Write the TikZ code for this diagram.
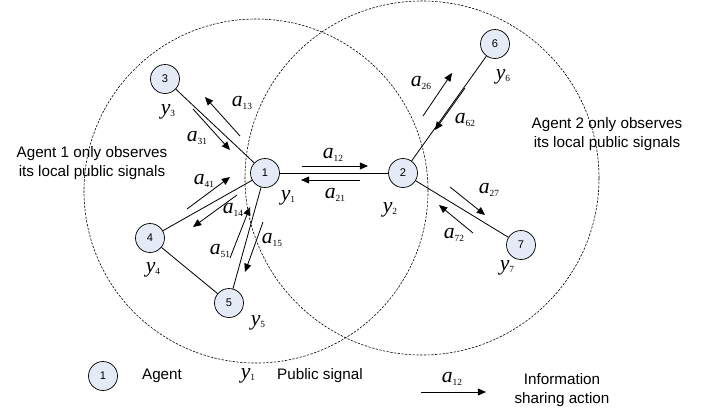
\documentclass[tikz,border=0pt]{standalone}
\usepackage{fontspec}
\usepackage{xcolor}
\usepackage{tikz}
\usetikzlibrary{arrows.meta}
\setmainfont{Liberation Sans}
\newfontfamily\symfont{Liberation Serif}
\definecolor{agentfill}{RGB}{228,235,246}
% variable with a small upright index
\newcommand{\symlab}[2]{{\symfont\itshape\fontsize{18.5}{20}\selectfont #1}\raisebox{-0.2em}{\symfont\fontsize{8}{9}\selectfont #2}}

\begin{document}
\begin{tikzpicture}[x=0.03cm, y=-0.03cm,
    agent/.style={draw, circle, fill=agentfill, minimum size=0.87cm, inner sep=0pt, line width=0.6pt, font=\fontsize{9.5}{11}\selectfont},
    link/.style={line width=0.7pt},
    act/.style={line width=0.7pt, -{Triangle[length=7pt,width=6pt]}},
    zone/.style={line width=0.5pt, dash pattern=on 2pt off 1.2pt},
    note/.style={align=center, inner sep=0pt, font=\fontsize{13}{15.5}\selectfont},
    lab/.style={inner sep=0pt}]
    \useasboundingbox (0,0) rectangle (706,411);

    % Observation ranges
    \draw[zone] (256,191) circle [radius=5.16cm];
    \draw[zone] (422,178) circle [radius=5.31cm];
    \node[note] (obs1) at (92,163) {Agent 1 only observes\\its local public signals};
    \node[note] (obs2) at (607,134) {Agent 2 only observes\\its local public signals};

    % Agents
    \node[agent] (n1) at (265,173) {1};
    \node[agent] (n2) at (403,173) {2};
    \node[agent] (n3) at (165,79) {3};
    \node[agent] (n4) at (150,238) {4};
    \node[agent] (n5) at (229,303) {5};
    \node[agent] (n6) at (495,44) {6};
    \node[agent] (n7) at (521,245) {7};

    % Links
    \draw[link] (n3) -- (n1);
    \draw[link] (n1) -- (n2);
    \draw[link] (n1) -- (n4);
    \draw[link] (n4) -- (n5);
    \draw[link] (n5) -- (n1);
    \draw[link] (n2) -- (n6);
    \draw[link] (n2) -- (n7);

    % Public signals
    \node[lab] (y1) at (288,198) {\symlab{y}{1}};
    \node[lab] (y2) at (390,210) {\symlab{y}{2}};
    \node[lab] (y3) at (168,112) {\symlab{y}{3}};
    \node[lab] (y4) at (153,270) {\symlab{y}{4}};
    \node[lab] (y5) at (258,323) {\symlab{y}{5}};
    \node[lab] (y6) at (503,77) {\symlab{y}{6}};
    \node[lab] (y7) at (507,268) {\symlab{y}{7}};

    % Information sharing actions
    \foreach \nm/\sx/\sy/\ex/\ey in {a13/240/136/205/97, a31/193/109/230/150,
        a41/187/209/230/177, a14/237/195/193/227, a51/230/258/250/207,
        a15/263/222/245/272, a12/302/166/368/166, a21/360/180/301/180,
        a26/423/116/452/73, a62/465/88/435/130, a27/450/187/485/215,
        a72/473/233/439/205} {
        \coordinate (\nm s) at (\sx,\sy);
        \coordinate (\nm e) at (\ex,\ey);
        \draw[act] (\nm s) -- (\nm e);
    }
    \node[lab] (l13) at (242,103) {\symlab{a}{13}};
    \node[lab] (l31) at (197,138) {\symlab{a}{31}};
    \node[lab] (l41) at (204,181) {\symlab{a}{41}};
    \node[lab] (l14) at (233,210) {\symlab{a}{14}};
    \node[lab] (l51) at (220,251) {\symlab{a}{51}};
    \node[lab] (l15) at (272,240) {\symlab{a}{15}};
    \node[lab] (l12) at (333,155) {\symlab{a}{12}};
    \node[lab] (l21) at (335,195) {\symlab{a}{21}};
    \node[lab] (l26) at (421,83) {\symlab{a}{26}};
    \node[lab] (l62) at (465,120) {\symlab{a}{62}};
    \node[lab] (l27) at (489,190) {\symlab{a}{27}};
    \node[lab] (l72) at (454,235) {\symlab{a}{72}};

    % Legend
    \node[agent] (key1) at (103,376) {1};
    \node[note] (keyagent) at (162,376) {Agent};
    \node[lab] (keyy) at (248,376) {\symlab{y}{1}};
    \node[note, anchor=west] (keysig) at (277,376) {Public signal};
    \coordinate (keys) at (421,392);
    \coordinate (keye) at (486,392);
    \draw[act] (keys) -- (keye);
    \node[lab] (keya) at (452,379) {\symlab{a}{12}};
    \node[note] (keyact) at (562,390) {Information\\sharing action};
\end{tikzpicture}
\end{document}
